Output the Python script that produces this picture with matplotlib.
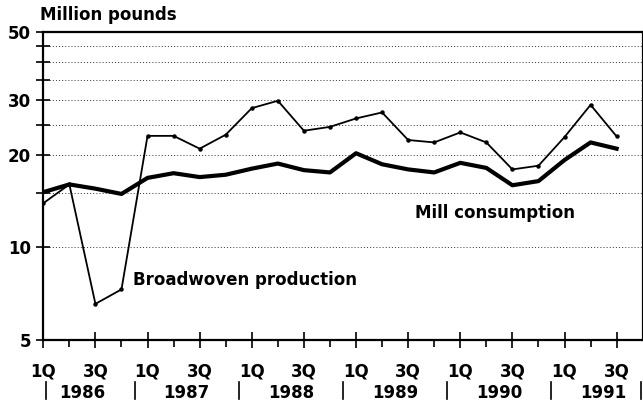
import matplotlib
matplotlib.use("Agg")
import matplotlib.pyplot as plt
from matplotlib.ticker import FixedLocator, NullFormatter, FixedFormatter
from matplotlib.transforms import blended_transform_factory

plt.rcParams['font.family'] = ['DejaVu Sans']
plt.rcParams['font.weight'] = 'bold'

quarters = ["1Q", "2Q", "3Q", "4Q"]
years = ["1986", "1987", "1988", "1989", "1990", "1991"]
broadwoven = [13.9, 16.0, 6.55, 7.3, 23.0, 23.0, 20.9, 23.2, 28.3, 29.9, 23.9, 24.6,
              26.2, 27.4, 22.3, 21.9, 23.6, 21.9, 17.9, 18.4, 22.8, 29.0, 22.9]
mill = [15.1, 16.0, 15.5, 14.9, 16.8, 17.4, 16.9, 17.2, 18.0, 18.7, 17.8, 17.5,
        20.2, 18.6, 17.9, 17.5, 18.8, 18.1, 15.9, 16.4, 19.2, 21.9, 20.9]
y_major = [5, 10, 20, 30, 50]
y_grid = [10, 15, 20, 25, 30, 35, 40, 45]

fig = plt.figure(figsize=(6.43, 4.05), dpi=100)
ax = fig.add_axes([43.3/643, 1-340/405, 599.4/643, 308/405])
x = list(range(len(broadwoven)))

ax.set_yscale('log')
ax.set_ylim(5, 50)
ax.set_xlim(0, 23)

for g in y_grid:
    ax.axhline(g, color='#333333', lw=0.7, ls=(0, (1, 2.2)), zorder=1)

ax.plot(x, broadwoven, color='black', lw=1.3, marker='o', ms=2.2, zorder=3)
ax.plot(x, mill, color='black', lw=3.0, solid_joinstyle='round', zorder=3)

ax.yaxis.set_major_locator(FixedLocator(y_major))
ax.yaxis.set_major_formatter(FixedFormatter([str(v) for v in y_major]))
ax.yaxis.set_minor_locator(FixedLocator([15, 25, 35, 40, 45]))
ax.yaxis.set_minor_formatter(NullFormatter())
ax.tick_params(axis='y', which='both', direction='inout', length=10, width=1.2,
               labelsize=12, pad=4)

ax.xaxis.set_major_locator(FixedLocator([i for i in x if i % 2 == 0]))
ax.xaxis.set_major_formatter(FixedFormatter([quarters[i % 4] for i in x if i % 2 == 0]))
ax.xaxis.set_minor_locator(FixedLocator([i for i in x if i % 2 == 1]))
ax.tick_params(axis='x', which='major', direction='inout', length=12, width=1.2,
               labelsize=12, pad=10)
ax.tick_params(axis='x', which='minor', direction='out', length=5, width=1.2)

for s in ['left', 'top', 'right', 'bottom']:
    ax.spines[s].set_linewidth(1.6)
    ax.spines[s].set_color('black')

trans = blended_transform_factory(ax.transData, ax.transAxes)
for k, yr in enumerate(years):
    ax.text(4*k + 1.5, -0.172, yr, transform=trans, ha='center', va='center',
            fontsize=12, fontweight='bold')
bars = [0.1] + [4*k - 0.5 for k in range(1, 6)] + [22.95]
for b in bars:
    ax.plot([b, b], [-0.135, -0.19], transform=trans, color='black', lw=1.2,
            clip_on=False)

ax.text(3.45, 7.85, "Broadwoven production", ha='left', va='center',
        fontsize=12, fontweight='bold')
ax.text(14.27, 12.9, "Mill consumption", ha='left', va='center',
        fontsize=12, fontweight='bold')
fig.text(40/643, 1-15/405, "Million pounds", ha='left', va='center',
         fontsize=12, fontweight='bold')

fig.savefig("out.png", dpi=100)
